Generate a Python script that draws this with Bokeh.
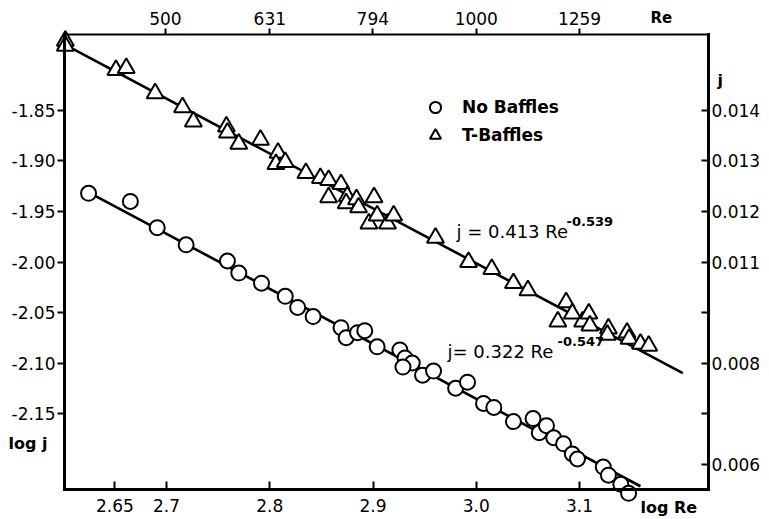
import math
from bokeh.plotting import figure
from bokeh.models import (LinearAxis, FixedTicker, CustomJSTickFormatter, Label,
                          Legend, LegendItem, Range1d)
from bokeh.embed import file_html
from bokeh.resources import INLINE

# ---------------- data ----------------
nb_logre = [2.6245, 2.665, 2.691, 2.719, 2.759, 2.770, 2.792, 2.815, 2.827, 2.842,
            2.869, 2.874, 2.885, 2.892, 2.904, 2.926, 2.931, 2.938, 2.929, 2.948,
            2.9586, 2.980, 2.9915, 3.007, 3.017, 3.036, 3.055, 3.061, 3.068, 3.075,
            3.0845, 3.093, 3.098, 3.123, 3.128, 3.140, 3.1475]
nb_logj = [-1.932, -1.940, -1.966, -1.983, -1.999, -2.011, -2.021, -2.034, -2.045, -2.054,
           -2.065, -2.075, -2.070, -2.068, -2.084, -2.087, -2.095, -2.100, -2.104, -2.112,
           -2.108, -2.125, -2.119, -2.140, -2.144, -2.158, -2.155, -2.169, -2.162, -2.174,
           -2.180, -2.190, -2.195, -2.203, -2.211, -2.220, -2.229]

tb_logre = [2.602, 2.602, 2.651, 2.661, 2.689, 2.7155, 2.726, 2.758, 2.759, 2.770,
            2.791, 2.808, 2.806, 2.815, 2.835, 2.849, 2.857, 2.857, 2.869, 2.875,
            2.874, 2.884, 2.886, 2.901, 2.896, 2.904, 2.914, 2.920, 2.9605, 2.9925,
            3.015, 3.036, 3.050, 3.087, 3.079, 3.093, 3.103, 3.109, 3.110, 3.128,
            3.127, 3.146, 3.148, 3.159, 3.167]
tb_logj = [-1.781, -1.786, -1.810, -1.808, -1.833, -1.847, -1.861, -1.866, -1.872, -1.883,
           -1.879, -1.892, -1.903, -1.901, -1.912, -1.917, -1.919, -1.936, -1.923, -1.935,
           -1.942, -1.938, -1.946, -1.936, -1.962, -1.954, -1.962, -1.954, -1.976, -2.000,
           -2.007, -2.021, -2.028, -2.040, -2.059, -2.051, -2.059, -2.051, -2.063, -2.066,
           -2.072, -2.070, -2.076, -2.081, -2.083]

fit_tb_logre = [2.602, 3.200]
fit_tb_logj = [-1.785, -2.110]
fit_nb_logre = [2.6245, 3.159]
fit_nb_logj = [-1.931, -2.222]

bottom_ticks = [2.65, 2.7, 2.8, 2.9, 3.0, 3.1]
bottom_labels = ["2.65", "2.7", "2.8", "2.9", "3.0", "3.1"]
left_ticks = [-1.85, -1.90, -1.95, -2.00, -2.05, -2.10, -2.15]
left_labels = ["-1.85", "-1.90", "-1.95", "-2.00", "-2.05", "-2.10", "-2.15"]
top_re_values = [500, 631, 794, 1000, 1259]
top_labels = ["500", "631", "794", "1000", "1259"]
right_ticks = [-1.85, -1.90, -1.95, -2.00, -2.05, -2.10, -2.15, -2.20]
right_labels = ["0.014", "0.013", "0.012", "0.011", "", "0.008", "", "0.006"]

eq_tb_main = "j = 0.413 Re"
eq_tb_exp = "-0.539"
eq_nb_main = "j= 0.322 Re"
eq_nb_exp = "-0.547"

# ---------------- geometry ----------------
W, H = 769, 519
X0, X1 = 2.6012, 3.2249          # plot box (axes) limits
Y0, Y1 = -2.2252, -1.7748
BL, BT, FW, FH = 64, 34, 644, 455  # box position on the page


def sx(px):
    return X0 + (px - BL) * (X1 - X0) / FW


def sy(py):
    return Y1 - (py - BT) * (Y1 - Y0) / FH


p = figure(width=W, height=H, min_border=0,
           x_range=Range1d(sx(0), sx(W)), y_range=Range1d(sy(H), sy(0)),
           output_backend="svg", toolbar_location=None, title=None)
p.grid.visible = False
p.outline_line_color = None
p.background_fill_color = "white"
p.border_fill_color = "white"


def fmt(tick_pos, tick_lab):
    return CustomJSTickFormatter(args=dict(tpos=tick_pos, tlab=tick_lab), code="""
        for (let i = 0; i < tpos.length; i++) {
            if (Math.abs(tick - tpos[i]) < 1e-6) return tlab[i];
        }
        return "";
    """)


FONT = "DejaVu Sans"


def style_axis(ax, tin, tout, standoff, lw, loc, bounds):
    ax.fixed_location = loc
    ax.bounds = bounds
    ax.axis_line_width = lw
    ax.axis_line_color = "black"
    ax.axis_line_cap = "square"
    ax.major_tick_line_width = 2
    ax.major_tick_line_color = "black"
    ax.major_tick_in = tin
    ax.major_tick_out = tout
    ax.minor_tick_line_color = None
    ax.major_label_standoff = standoff
    ax.major_label_text_font = FONT
    ax.major_label_text_font_size = "17px"
    ax.major_label_text_color = "black"


xb = p.xaxis[0]
xb.ticker = FixedTicker(ticks=bottom_ticks)
xb.formatter = fmt(bottom_ticks, bottom_labels)
style_axis(xb, 8, 0, 9, 3, Y0, (X0, X1))

yl = p.yaxis[0]
yl.ticker = FixedTicker(ticks=left_ticks)
yl.formatter = fmt(left_ticks, left_labels)
style_axis(yl, 0, 7, 2, 3, X0, (Y0, Y1))

top_pos = [math.log10(v) for v in top_re_values]
xt = LinearAxis(ticker=FixedTicker(ticks=top_pos), formatter=fmt(top_pos, top_labels))
style_axis(xt, 0, 6, 4, 2, Y1, (X0, X1))
p.add_layout(xt, "above")

yr = LinearAxis(ticker=FixedTicker(ticks=right_ticks), formatter=fmt(right_ticks, right_labels))
style_axis(yr, 7, 0, 3, 3, X1, (Y0, Y1))
p.add_layout(yr, "right")

# ---------------- fitted lines and data ----------------
p.line(fit_tb_logre, fit_tb_logj, line_color="black", line_width=2.6)
p.line(fit_nb_logre, fit_nb_logj, line_color="black", line_width=2.6)

r_nb = p.scatter(nb_logre, nb_logj, marker="circle", size=15, fill_color="white",
                 line_color="black", line_width=2)
r_tb = p.scatter(tb_logre, tb_logj, marker="triangle", size=17, fill_color="white",
                 line_color="black", line_width=2)

legend = Legend(items=[LegendItem(label="No Baffles", renderers=[r_nb]),
                       LegendItem(label="T-Baffles", renderers=[r_tb])],
                location=(421, H - 149), glyph_width=28, glyph_height=28, label_height=25,
                label_standoff=13, spacing=-3, padding=0, margin=0,
                border_line_color=None, background_fill_alpha=0,
                label_text_font=FONT, label_text_font_style="bold",
                label_text_font_size="17px", label_text_color="black")
p.add_layout(legend)

# ---------------- text annotations ----------------
def add_text(txt, px, py, size, bold=False, align="left"):
    p.add_layout(Label(x=sx(px), y=sy(py), text=txt, text_font=FONT,
                       text_font_size=size, text_font_style="bold" if bold else "normal",
                       text_align=align, text_baseline="middle", text_color="black"))


add_text(eq_tb_main, 456, 231, "18px")
add_text(eq_tb_exp, 566, 221, "13px", bold=True)
add_text(eq_nb_main, 447, 351, "18px")
add_text(eq_nb_exp, 557, 341, "13px", bold=True)

add_text("log j", 8, 443, "16px", bold=True)
add_text("log Re", 640, 507, "16px", bold=True)
add_text("Re", 650, 17, "15px", bold=True)
add_text("j", 717, 80, "16px", bold=True)

open("out.html", "w").write(file_html(p, INLINE))
